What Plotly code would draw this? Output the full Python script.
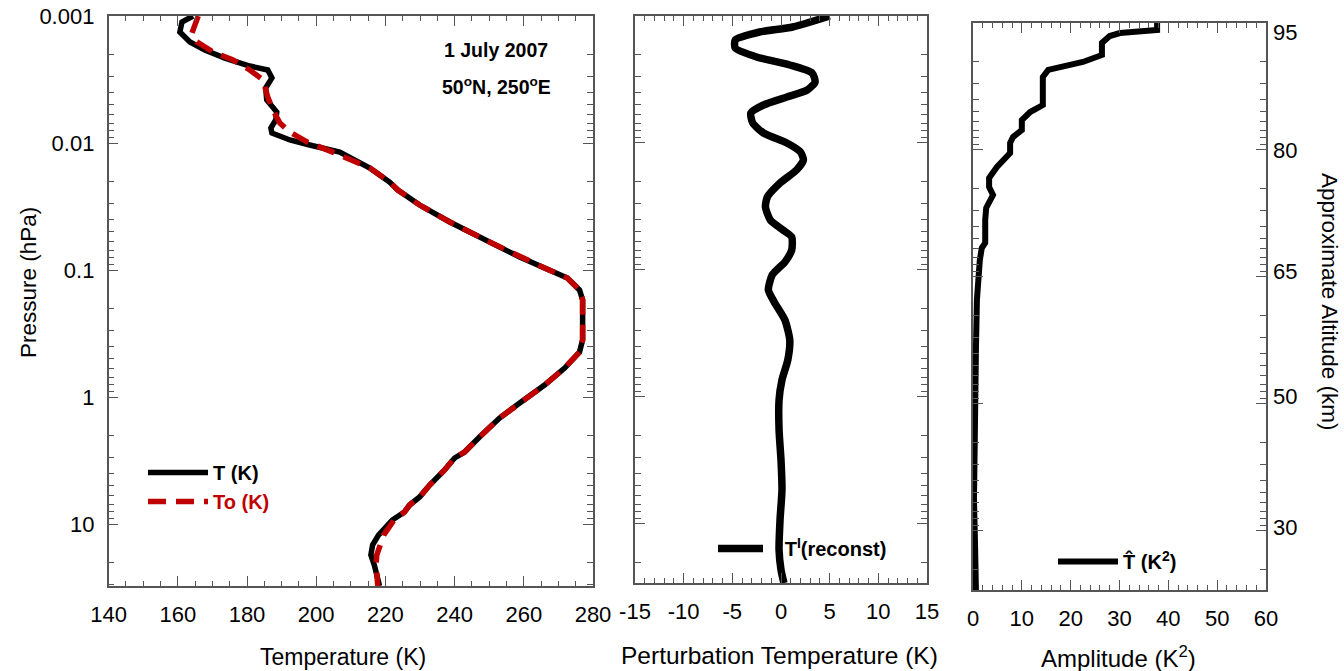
import plotly.graph_objects as go

# ---------------- data ----------------
# Panel 1: temperature profiles (pressure in hPa)
p_T = [0.001, 0.001115, 0.001337, 0.001603, 0.001853, 0.002143, 0.002477, 0.002662, 0.003077, 0.00369,
       0.004585, 0.005699, 0.006588, 0.007617, 0.008343, 0.009466, 0.01037, 0.01177, 0.01573, 0.02028,
       0.02344, 0.03079, 0.04188, 0.0602, 0.07906, 0.09646, 0.1156, 0.1437, 0.1722, 0.3556,
       0.4424, 0.5914, 0.8053, 1.115, 1.463, 2.065, 2.709, 3.021, 3.756, 4.931,
       6.126, 7.083, 8.045, 9.302, 12.22, 14.63, 17.54, 21.03, 27.62, 30.78]
T_vals = [164.4, 161.2, 160.6, 163.5, 167.8, 173.6, 180.8, 186.0, 187.2, 185.4,
          185.7, 188.6, 188.3, 186.9, 187.2, 192.4, 198.1, 206.8, 215.5, 221.2,
          223.6, 229.9, 238.6, 250.1, 258.8, 266.0, 272.6, 276.1, 277.0, 277.0,
          276.1, 271.8, 266.0, 258.8, 253.0, 247.2, 242.9, 240.0, 237.1, 232.8,
          229.9, 227.0, 225.5, 222.0, 218.0, 216.3, 215.8, 216.8, 218.0, 218.3]

p_To = [0.001, 0.00136, 0.0016, 0.00192, 0.00222, 0.00266, 0.00318, 0.00434, 0.0055, 0.00696,
        0.0082, 0.0098, 0.0118, 0.01573, 0.02028, 0.02344, 0.03079, 0.04188, 0.0602, 0.07906,
        0.09646, 0.1156, 0.1437, 0.1722, 0.3556, 0.4424, 0.5914, 0.8053, 1.115, 1.463,
        2.065, 2.709, 3.021, 3.756, 4.931, 6.126, 7.083, 8.045, 9.302, 12.22,
        14.63, 17.54, 21.03, 27.62, 30.78]
To_vals = [165.9, 164.1, 165.5, 170.2, 176.0, 180.8, 184.6, 186.0, 187.5, 189.5,
           192.4, 197.3, 204.8, 215.5, 221.2, 223.6, 229.9, 238.6, 250.1, 258.8,
           266.0, 272.6, 276.1, 277.0, 277.0, 276.1, 271.8, 266.0, 258.8, 253.0,
           247.2, 242.9, 240.0, 237.1, 232.8, 229.9, 227.0, 225.5, 222.5, 219.5,
           218.5, 217.5, 217.3, 217.6, 217.8]

# Panel 2: perturbation temperature
p_pert = [0.001, 0.001221, 0.001337, 0.001545, 0.001786, 0.002104, 0.002432, 0.002812, 0.003311, 0.003828,
          0.004345, 0.005022, 0.005806, 0.006964, 0.008343, 0.0100, 0.01177, 0.01362, 0.01633, 0.02066,
          0.02661, 0.03192, 0.04036, 0.04842, 0.05495, 0.06962, 0.0865, 0.1094, 0.1437, 0.1786,
          0.2477, 0.3556, 0.5117, 0.7345, 1.057, 1.82, 3.135, 5.4, 9.302, 16.03,
          23.03, 29.2]
pert = [5.0, 1.2, -2.2, -4.7, -4.7, -2.5, 0.9, 3.2, 3.5, 2.7,
        0.6, -1.8, -3.1, -2.9, -1.8, 0.6, 2.0, 2.3, 1.6, -0.1,
        -1.4, -1.6, -1.1, 0.2, 1.1, 1.1, 0.4, -0.9, -1.3, -0.7,
        0.4, 0.9, 0.7, 0.1, -0.2, -0.2, 0.0, 0.1, -0.1, -0.2,
        0.0, 0.3]

# Panel 3: amplitude
p_amp = [0.001, 0.001135, 0.001199, 0.001266, 0.001436, 0.001786, 0.002027, 0.002219, 0.002342, 0.002661,
         0.004424, 0.005022, 0.005806, 0.006964, 0.007908, 0.00882, 0.01057, 0.01362, 0.01661, 0.01955,
         0.02259, 0.02862, 0.03557, 0.05395, 0.05909, 0.07345, 0.09646, 0.1517, 0.3758, 0.9312,
         2.303, 5.701, 11.78, 29.2]
amp = [37.7, 37.7, 30.1, 28.0, 26.4, 26.4, 22.5, 17.8, 15.4, 14.3,
       14.3, 11.7, 10.0, 10.0, 8.2, 7.6, 7.6, 4.9, 3.3, 3.3,
       4.1, 2.7, 2.5, 2.5, 1.8, 1.4, 1.2, 0.8, 0.6, 0.4,
       0.2, 0.2, 0.4, 0.6]

# Axis tick labels
p_ticks = [0.001, 0.01, 0.1, 1, 10]
p_ticktext = ["0.001", "0.01", "0.1", "1", "10"]
T_ticks = [140, 160, 180, 200, 220, 240, 260, 280]
pert_ticks = [-15, -10, -5, 0, 5, 10, 15]
amp_ticks = [0, 10, 20, 30, 40, 50, 60]
alt_labels = ["95", "80", "65", "50", "30"]
alt_pressure = [0.00118, 0.0100, 0.0897, 0.865, 9.3]

# ---------------- figure ----------------
W, H = 1344, 671
FONT = "Liberation Sans, Arial, sans-serif"
AX = "#555555"
NB = "\u00a0"

def px(x):
    return x / W

def py(y):
    return 1 - y / H

fig = go.Figure()

fig.add_trace(go.Scatter(x=T_vals, y=p_T, mode="lines", name="<b>T (K)</b>",
                         line=dict(color="black", width=5.5), xaxis="x", yaxis="y",
                         legend="legend"))
fig.add_trace(go.Scatter(x=To_vals, y=p_To, mode="lines",
                         name="<b><span style='color:#c00000'>To (K)</span></b>",
                         line=dict(color="#c00000", width=5.5, dash="18px,10px"),
                         xaxis="x", yaxis="y", legend="legend"))
fig.add_trace(go.Scatter(x=pert, y=p_pert, mode="lines",
                         name=NB * 3 + "<b>T<sup>I</sup>(reconst)</b>",
                         line=dict(color="black", width=7.5, shape="spline", smoothing=0.6),
                         xaxis="x2", yaxis="y2", legend="legend2"))
fig.add_trace(go.Scatter(x=amp, y=p_amp, mode="lines",
                         name="<b>T\u0302 (K<sup>2</sup>)</b>",
                         line=dict(color="black", width=6), xaxis="x3", yaxis="y3",
                         legend="legend3"))
# invisible helper so the altitude axis is rendered
fig.add_trace(go.Scatter(x=[amp[-1]], y=[p_amp[-1]], mode="markers",
                         marker=dict(opacity=0), showlegend=False, hoverinfo="skip",
                         xaxis="x3", yaxis="y4"))

tickfont = dict(family=FONT, size=22, color="black")

def xax(domain, rng, ticks, mdtick, anchor):
    return dict(domain=domain, range=rng, tickvals=ticks, ticktext=[str(t) for t in ticks],
                anchor=anchor, automargin=False,
                showline=True, linecolor=AX, linewidth=1.5, mirror="ticks",
                ticks="inside", ticklen=10, tickwidth=1.3, tickcolor=AX,
                minor=dict(dtick=mdtick, tick0=rng[0], ticks="inside", ticklen=5,
                           tickwidth=1.1, tickcolor=AX, showgrid=False),
                showgrid=False, zeroline=False, tickfont=tickfont,
                ticklabelstandoff=8)

def yax(domain, rng, anchor, labels):
    return dict(domain=domain, range=rng, type="log", anchor=anchor, automargin=False,
                tickvals=p_ticks, ticktext=p_ticktext, showticklabels=labels,
                showline=True, linecolor=AX, linewidth=1.5, mirror="ticks",
                ticks="inside", ticklen=10, tickwidth=1.3, tickcolor=AX,
                minor=dict(dtick="D1", ticks="inside", ticklen=6, tickwidth=1.1,
                           tickcolor=AX, showgrid=False),
                showgrid=False, zeroline=False, tickfont=tickfont,
                ticklabelstandoff=8)

dx1 = [px(108.6), px(593)]
dx2 = [px(635), px(927)]
dx3 = [px(973), px(1266)]
dy1 = [py(586), py(16)]
dy2 = [py(583), py(16)]
dy3 = [py(590), py(23)]

legfont = dict(family=FONT, size=20, color="black")
fig.update_layout(
    width=W, height=H, margin=dict(l=0, r=0, t=0, b=0, autoexpand=False),
    paper_bgcolor="white", plot_bgcolor="white",
    font=dict(family=FONT, color="black"),
    xaxis=xax(dx1, [140, 280], T_ticks, 5, "y"),
    xaxis2=xax(dx2, [-15, 15], pert_ticks, 1, "y2"),
    xaxis3=xax(dx3, [0, 60], amp_ticks, 2, "y3"),
    yaxis=yax(dy1, [1.488, -3], "x", True),
    yaxis2=yax(dy2, [1.465, -3], "x2", False),
    yaxis3=yax(dy3, [1.465, -3], "x3", False),
    yaxis4=dict(domain=dy3, range=[1.465, -3], type="log", overlaying="y3",
                side="right", anchor="x3", tickvals=alt_pressure, ticktext=alt_labels,
                automargin=False,
                ticks="", showline=False, showgrid=False, zeroline=False,
                tickfont=tickfont, ticklabelstandoff=6),
    showlegend=True,
    legend=dict(x=px(143), y=py(453), xanchor="left", yanchor="top",
                bgcolor="rgba(0,0,0,0)", font=legfont, itemwidth=60, tracegroupgap=0),
    legend2=dict(x=px(713), y=py(529), xanchor="left", yanchor="top",
                 bgcolor="rgba(0,0,0,0)", font=legfont, itemwidth=45),
    legend3=dict(x=px(1053), y=py(542), xanchor="left", yanchor="top",
                 bgcolor="rgba(0,0,0,0)", font=legfont, itemwidth=60),
)

ann = []
def title(text, x, y, size, angle=0):
    ann.append(dict(text=text, x=px(x), y=py(y), xref="paper", yref="paper",
                    xanchor="center", yanchor="middle", textangle=angle,
                    showarrow=False, font=dict(family=FONT, size=size, color="black")))

title("Pressure (hPa)", 28, 283, 22.5, -90)
title("Temperature (K)", 343, 657, 23)
title("Perturbation Temperature (K)", 779, 655, 24.5)
title("Amplitude (K<sup>2</sup>)", 1118, 657, 24)
title("Approximate Altitude (km)", 1330, 302, 22.5, 90)
ann.append(dict(text="<b>1 July 2007</b>", x=px(496), y=py(50), xref="paper", yref="paper",
                xanchor="center", yanchor="middle", showarrow=False,
                font=dict(family=FONT, size=19.5, color="black")))
ann.append(dict(text="<b>50<sup>o</sup>N, 250<sup>o</sup>E</b>", x=px(496), y=py(86),
                xref="paper", yref="paper", xanchor="center", yanchor="middle",
                showarrow=False, font=dict(family=FONT, size=19.5, color="black")))
fig.update_layout(annotations=ann)

fig.write_html("out.html")
